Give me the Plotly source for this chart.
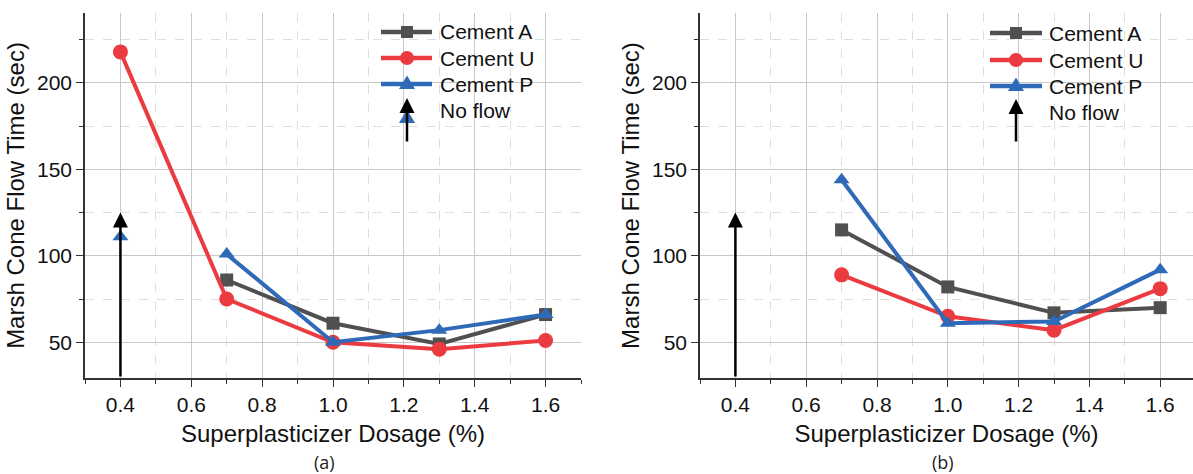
import plotly.graph_objects as go

# ---- data -------------------------------------------------------------
dosage = [0.4, 0.7, 1.0, 1.3, 1.6]

# panel (a)
a_cement_a = [None, 86, 61, 49, 66]
a_cement_u = [218, 75, 50, 46, 51]
a_cement_p = [None, 101, 50, 57, 66]
a_cement_p_low = 111          # lone Cement P point at 0.4 %

# panel (b)
b_cement_a = [None, 115, 82, 67, 70]
b_cement_u = [None, 89, 65, 57, 81]
b_cement_p = [None, 144, 61, 62, 92]

no_flow_dosage = 0.4
no_flow_arrow_top = 125

series_names = ["Cement A", "Cement U", "Cement P"]
x_ticks = [0.4, 0.6, 0.8, 1.0, 1.2, 1.4, 1.6]
y_ticks = [50, 100, 150, 200]

# ---- styling ------------------------------------------------------------
W, H = 1193, 474
FONT = "Liberation Sans, Arial, sans-serif"
GRAY, RED, BLUE = "#505050", "#EB3B40", "#2F6AB8"
colors = [GRAY, RED, BLUE]
symbols = ["square", "circle", "triangle-up"]
msizes = [13, 15, 14]
LW = 4
X_RANGE = [0.3, 1.7]
Y_RANGE = [29.3, 240.5]


def px(x):
    return x / W


def py(y):
    return 1 - y / H


fig = go.Figure()

panels = [
    ("x", "y", [a_cement_a, a_cement_u, a_cement_p]),
    ("x2", "y2", [b_cement_a, b_cement_u, b_cement_p]),
]
for xa, ya, vals in panels:
    for name, v, c, s, ms in zip(series_names, vals, colors, symbols, msizes):
        fig.add_trace(go.Scatter(
            x=dosage, y=v, name=name, mode="lines+markers",
            line=dict(color=c, width=LW),
            marker=dict(symbol=s, size=ms, color=c),
            xaxis=xa, yaxis=ya, showlegend=False, connectgaps=False,
        ))

# lone Cement P marker at the lowest dosage in panel (a)
fig.add_trace(go.Scatter(
    x=[no_flow_dosage], y=[a_cement_p_low], mode="markers",
    marker=dict(symbol="triangle-up", size=14, color=BLUE),
    xaxis="x", yaxis="y", showlegend=False,
))


def xaxis(domain, anchor):
    return dict(
        domain=domain, anchor=anchor, range=X_RANGE,
        tickmode="array", tickvals=x_ticks, ticktext=[f"{t:.1f}" for t in x_ticks],
        ticks="outside", ticklen=7, tickwidth=1.3, tickcolor="#333",
        showline=True, linecolor="#333", linewidth=1.5,
        showgrid=True, gridcolor="#c8c8c8", gridwidth=1, zeroline=False,
        minor=dict(tickmode="linear", tick0=0.3, dtick=0.2, ticks="outside",
                   ticklen=4, tickcolor="#333", tickwidth=1.2,
                   showgrid=True, gridcolor="#dedede", griddash="dash"),
        tickfont=dict(size=21, color="#111", family=FONT),
        title=dict(text="Superplasticizer Dosage (%)",
                   font=dict(size=24, color="#111", family=FONT), standoff=10),
    )


def yaxis(anchor):
    return dict(
        domain=[py(378), py(13)], anchor=anchor, range=Y_RANGE,
        tickmode="array", tickvals=y_ticks,
        ticks="outside", ticklen=7, tickwidth=1.3, tickcolor="#333",
        showline=True, linecolor="#333", linewidth=1.5,
        showgrid=True, gridcolor="#c8c8c8", gridwidth=1, zeroline=False,
        minor=dict(tickmode="linear", tick0=25, dtick=50, ticks="outside",
                   ticklen=4, tickcolor="#333", tickwidth=1.2,
                   showgrid=True, gridcolor="#dedede", griddash="dash"),
        tickfont=dict(size=21, color="#111", family=FONT),
        title=dict(text="Marsh Cone Flow Time (sec)",
                   font=dict(size=24, color="#111", family=FONT), standoff=6),
    )


annotations = []
shapes = []

# "no flow" arrows inside the plots
for xr, yr in [("x", "y"), ("x2", "y2")]:
    annotations.append(dict(
        x=no_flow_dosage, y=no_flow_arrow_top, xref=xr, yref=yr,
        ax=no_flow_dosage, ay=Y_RANGE[0], axref=xr, ayref=yr,
        text="", showarrow=True, arrowhead=2, arrowsize=1.2,
        arrowwidth=2.5, arrowcolor="#000", standoff=0,
    ))

# hand-made legends for both panels
legend_layout = [
    # line x0, x1, marker x, text x, row ys, no-flow text y, arrow tip y, tail y
    dict(x0=381, x1=432, xm=407, xt=438, rows=[32, 58, 84], nf=110, tip=98, tail=143, tri=True),
    dict(x0=990, x1=1042, xm=1016, xt=1047, rows=[33, 60, 86], nf=112, tip=99, tail=143, tri=False),
]
for L in legend_layout:
    for name, c, s, yy in zip(series_names, colors, symbols, L["rows"]):
        shapes.append(dict(type="line", xref="paper", yref="paper",
                           x0=px(L["x0"]), x1=px(L["x1"]), y0=py(yy), y1=py(yy),
                           line=dict(color=c, width=4.5)))
        xm = L["xm"]
        if s == "square":
            shapes.append(dict(type="rect", xref="paper", yref="paper",
                               x0=px(xm - 6), x1=px(xm + 6),
                               y0=py(yy + 6), y1=py(yy - 6),
                               fillcolor=c, line=dict(width=0)))
        elif s == "circle":
            shapes.append(dict(type="circle", xref="paper", yref="paper",
                               x0=px(xm - 7), x1=px(xm + 7),
                               y0=py(yy + 7), y1=py(yy - 7),
                               fillcolor=c, line=dict(width=0)))
        else:
            path = (f"M{px(xm)},{py(yy - 8.5)} L{px(xm + 8)},{py(yy + 5)} "
                    f"L{px(xm - 8)},{py(yy + 5)} Z")
            shapes.append(dict(type="path", xref="paper", yref="paper", path=path,
                               fillcolor=c, line=dict(width=0)))
        annotations.append(dict(x=px(L["xt"]), y=py(yy), xref="paper", yref="paper",
                                text=name, showarrow=False, xanchor="left",
                                yanchor="middle",
                                font=dict(size=21, color="#111", family=FONT)))
    if L["tri"]:
        xm, yy = L["xm"], 118
        path = (f"M{px(xm)},{py(yy - 8.5)} L{px(xm + 8)},{py(yy + 5)} "
                f"L{px(xm - 8)},{py(yy + 5)} Z")
        shapes.append(dict(type="path", xref="paper", yref="paper", path=path,
                           fillcolor=BLUE, line=dict(width=0)))
    annotations.append(dict(x=px(L["xt"]), y=py(L["nf"]), xref="paper", yref="paper",
                            text="No flow", showarrow=False, xanchor="left",
                            yanchor="middle",
                            font=dict(size=21, color="#111", family=FONT)))
    annotations.append(dict(x=px(L["xm"]), y=py(L["tip"]), xref="paper", yref="paper",
                            ax=0, ay=L["tail"] - L["tip"], text="", showarrow=True,
                            arrowhead=2, arrowsize=1.2, arrowwidth=2.5,
                            arrowcolor="#000", standoff=0))

# panel captions
for label, xc in [("(a)", 325), ("(b)", 943)]:
    annotations.append(dict(x=px(xc), y=py(462), xref="paper", yref="paper",
                            text=label, showarrow=False, xanchor="center",
                            yanchor="middle",
                            font=dict(size=18, color="#222", family="Open Sans, sans-serif")))

fig.update_layout(
    template="none",
    width=W, height=H,
    margin=dict(l=0, r=0, t=0, b=0),
    paper_bgcolor="white", plot_bgcolor="white",
    font=dict(family=FONT, color="#111"),
    xaxis=xaxis([px(85), px(581)], "y"),
    yaxis=yaxis("x"),
    xaxis2=xaxis([px(700), 1.0], "y2"),
    yaxis2=yaxis("x2"),
    shapes=shapes,
    annotations=annotations,
    showlegend=False,
)
fig.layout.xaxis2.range = [0.3, 0.3 + 493 / 354]

fig.write_html("out.html")
